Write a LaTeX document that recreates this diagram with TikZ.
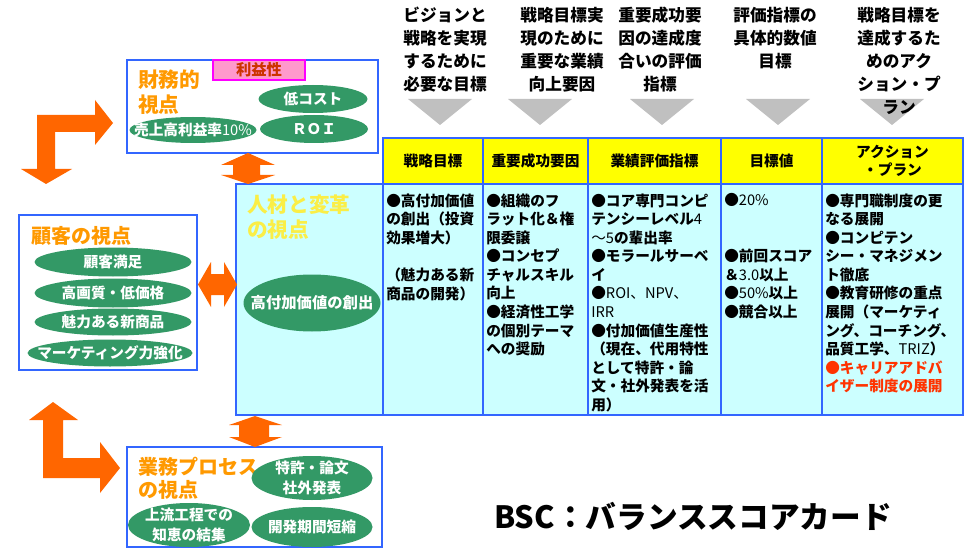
\documentclass[tikz,border=0pt]{standalone}
\usepackage{fontspec}
\setmainfont{Noto Sans CJK JP}
\usetikzlibrary{shapes.geometric}
\definecolor{bblue}{RGB}{51,102,255}
\definecolor{cyanf}{RGB}{204,255,255}
\definecolor{gellc}{RGB}{51,153,102}
\definecolor{orng}{RGB}{255,102,0}
\definecolor{otext}{RGB}{255,153,0}
\definecolor{yell}{RGB}{255,255,0}
\definecolor{ytext}{RGB}{250,238,70}
\definecolor{pinkf}{RGB}{255,153,204}
\definecolor{magb}{RGB}{255,0,255}
\definecolor{dred}{RGB}{204,51,0}
\definecolor{redt}{RGB}{255,51,0}
\definecolor{trig}{RGB}{192,192,192}
\newcommand{\mdx}[1]{{\mdseries #1}}
\begin{document}
\begin{tikzpicture}[x=0.75pt,y=-0.75pt,
  toptext/.style={font=\bfseries\fontsize{12.5}{17.25}\selectfont, align=center, anchor=north, inner sep=0pt},
  hdrtext/.style={font=\bfseries\fontsize{11}{14}\selectfont, align=center, inner sep=0pt},
  celltext/.style={font=\bfseries\fontsize{11}{13.9}\selectfont, align=left, anchor=north west, inner sep=0pt},
  ell/.style={ellipse, fill=gellc, inner sep=0pt},
  etext/.style={text=white, font=\bfseries\fontsize{11}{14.5}\selectfont, align=center, inner sep=0pt},
  ptitle/.style={text=otext, font=\bfseries\fontsize{15}{17.5}\selectfont, align=left, anchor=north west, inner sep=0pt},
  pbox/.style={draw=bblue, line width=1.5pt, fill=white},
  cellbox/.style={draw=bblue, line width=1.5pt},
  bigarrow/.style={fill=orng}]
\useasboundingbox (0,0) rectangle (967,549);
\fill[white] (0,0) rectangle (967,549);

% grey triangles
\foreach \cx in {440,540,662,778,892} {
  \fill[trig] (\cx-32,99) -- (\cx+32,99) -- (\cx,125) -- cycle;
}
% top explanations
\node[toptext] (t1) at (445,7) {ビジョンと\\戦略を実現\\するために\\必要な目標};
\node[toptext] (t2) at (562,7) {戦略目標実\\現のために\\重要な業績\\向上要因};
\node[toptext] (t3) at (660,7) {重要成功要\\因の達成度\\合いの評価\\指標};
\node[toptext] (t4) at (775,7) {評価指標の\\具体的数値\\目標};
\node[toptext] (t5) at (899,7) {戦略目標を\\達成するた\\めのアク\\ション・プ\\ラン};

% table
\foreach \a/\b in {383/483, 483/588, 588/721, 721/822, 822/963} {
  \filldraw[cellbox, fill=yell] (\a,138) rectangle (\b,184);
  \filldraw[cellbox, fill=cyanf] (\a,184) rectangle (\b,415);
}
\filldraw[cellbox, fill=cyanf] (236,184) rectangle (383,415);

\node[hdrtext] (c1) at (433,161) {戦略目標};
\node[hdrtext] (c2) at (535.5,161) {重要成功要因};
\node[hdrtext] (c3) at (654.5,161) {業績評価指標};
\node[hdrtext] (c4) at (771.5,161) {目標値};
\node[hdrtext] (c5) at (892.5,161) {アクション\\・プラン};

\node[celltext] (b1) at (386,193.5) {●高付加価値\\の創出（投資\\効果増大）\\[13.9pt]（魅力ある新\\商品の開発）};
\node[celltext] (b2) at (486,193.5) {●組織のフ\\ラット化＆権\\限委譲\\●コンセプ\\チャルスキル\\向上\\●経済性工学\\の個別テーマ\\への奨励};
\node[celltext] (b3) at (591,193.5) {●コア専門コンピ\\テンシーレベル\mdx{4}\\\mdx{～5}の輩出率\\●モラールサーベ\\イ\\●\mdx{ROI、NPV、}\\\mdx{IRR}\\●付加価値生産性\\（現在、代用特性\\として特許・論\\文・社外発表を活\\用）};
\node[celltext] (b4) at (724,193.5) {●\mdx{20\%}\\[27.8pt]●前回スコア\\＆\mdx{3.0}以上\\●\mdx{50\%}以上\\●競合以上};
\node[celltext] (b5) at (825,193.5) {●専門職制度の更\\なる展開\\●コンピテン\\シー・マネジメン\\ト徹底\\●教育研修の重点\\展開（マーケティ\\ング、コーチング、\\品質工学、\mdx{TRIZ}）\\\textcolor{redt}{●キャリアアドバ}\\\textcolor{redt}{イザー制度の展開}};

% learning & growth cell
\node[text=ytext, font=\bfseries\fontsize{15.5}{18.75}\selectfont, align=left, anchor=north west, inner sep=0pt] (lg) at (247,195) {人材と変革\\の視点};
\node[ell, minimum width=102.75pt, minimum height=42.75pt] (hv) at (312,303) {};
\node[etext, font=\bfseries\fontsize{11.5}{14}\selectfont] (hvt) at (hv) {高付加価値の創出};

% financial box
\filldraw[pbox] (127,60) rectangle (378,153);
\filldraw[fill=pinkf, draw=magb, line width=0.8pt] (213,60) rectangle (305,80);
\node[text=dred, font=\bfseries\fontsize{11.5}{14}\selectfont, inner sep=0pt] (prof) at (259,70) {利益性};
\node[ptitle, font=\bfseries\fontsize{15.5}{18.75}\selectfont] (fin) at (138,70) {財務的\\視点};
\node[ell, minimum width=81.75pt, minimum height=21pt] (lowcost) at (313,99) {};
\node[etext] (lowcostt) at (lowcost) {低コスト};
\node[ell, minimum width=81pt, minimum height=21pt] (roi) at (314,129) {};
\node[etext] (roit) at (roi) {ＲＯＩ};
\node[ell, minimum width=95.25pt, minimum height=19.5pt] (sales) at (193,130) {};
\node[etext] (salest) at (sales) {売上高利益率\mdx{10\%}};

% customer box
\filldraw[pbox] (19,215) rectangle (197,370);
\node[ptitle] (cust) at (31,226) {顧客の視点};
\node[ell, minimum width=117.75pt, minimum height=21.75pt] (cs1) at (113,262) {};
\node[etext] (cs1t) at (cs1) {顧客満足};
\node[ell, minimum width=117.75pt, minimum height=21.75pt] (cs2) at (113,293) {};
\node[etext] (cs2t) at (cs2) {高画質・低価格};
\node[ell, minimum width=117.75pt, minimum height=20.25pt] (cs3) at (113,322) {};
\node[etext] (cs3t) at (cs3) {魅力ある新商品};
\node[ell, minimum width=123.75pt, minimum height=20.25pt] (cs4) at (110,353) {};
\node[etext] (cs4t) at (cs4) {マーケティング力強化};

% process box
\filldraw[pbox] (127,447) rectangle (382,547);
\node[ptitle] (proc) at (138,457) {業務プロセス\\の視点};
\node[ell, minimum width=90.75pt, minimum height=33pt] (pat) at (312,478) {};
\node[etext] (patt) at (pat) {特許・論文\\社外発表};
\node[ell, minimum width=91.5pt, minimum height=33pt] (up) at (189,525) {};
\node[etext] (upt) at (up) {上流工程での\\知恵の結集};
\node[ell, minimum width=90.75pt, minimum height=30pt] (dev) at (312,527) {};
\node[etext] (devt) at (dev) {開発期間短縮};

% orange block arrows
\fill[bigarrow] (37,115) -- (95,115) -- (95,100) -- (113,123) -- (95,145) -- (95,132)
  -- (55,132) -- (55,169) -- (72,169) -- (46,184) -- (21,169) -- (37,169) -- cycle;
\fill[bigarrow] (53,402) -- (78,420) -- (63,420) -- (63,458) -- (100,458) -- (100,442)
  -- (120,468) -- (100,493) -- (100,478) -- (43,478) -- (43,420) -- (29,420) -- cycle;
\fill[bigarrow] (248,153) -- (275,165) -- (260,165) -- (260,175) -- (275,175) -- (248,184)
  -- (221,175) -- (233,175) -- (233,165) -- (221,165) -- cycle;
\fill[bigarrow] (255,416) -- (282,425) -- (269,425) -- (269,437) -- (282,437) -- (255,447)
  -- (229,437) -- (239,437) -- (239,425) -- (229,425) -- cycle;
\fill[bigarrow] (198,284.5) -- (211,262) -- (211,274) -- (224,274) -- (224,262) -- (237,284.5)
  -- (224,307) -- (224,295) -- (211,295) -- (211,307) -- cycle;

% title
\node[font=\bfseries\fontsize{23}{27}\selectfont, inner sep=0pt] (bsc) at (693,516) {BSC：バランススコアカード};
\end{tikzpicture}
\end{document}
